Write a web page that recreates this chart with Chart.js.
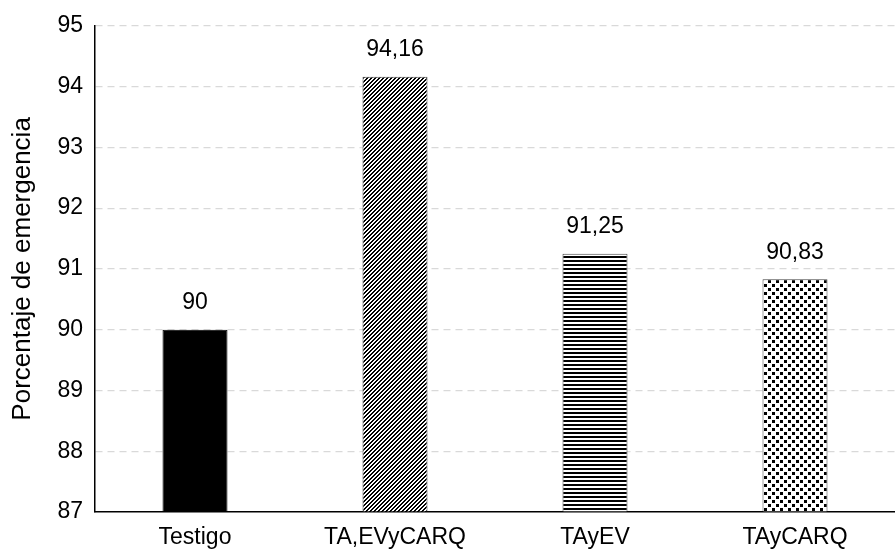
<!DOCTYPE html>
<html>
<head>
<meta charset="utf-8">
<script src="https://cdn.jsdelivr.net/npm/chart.js@4/dist/chart.umd.min.js"></script>
<style>
  html, body { margin: 0; padding: 0; background: #fff; }
  #wrap { width: 895px; height: 552px; }
</style>
</head>
<body>
<div id="wrap"><canvas id="c" width="895" height="552"></canvas></div>
<script>
const categories = ['Testigo', 'TA,EVyCARQ', 'TAyEV', 'TAyCARQ'];
const emergencia = [90, 94.16, 91.25, 90.83];
const valueLabels = ['90', '94,16', '91,25', '90,83'];
const yTicks = [87, 88, 89, 90, 91, 92, 93, 94, 95];

// Pixel fill patterns for each treatment
function makeTile(size, isInk) {
  const t = document.createElement('canvas');
  t.width = size; t.height = size;
  const g = t.getContext('2d');
  g.fillStyle = '#fff';
  g.fillRect(0, 0, size, size);
  g.fillStyle = '#000';
  for (let y = 0; y < size; y++) {
    for (let x = 0; x < size; x++) {
      if (isInk(x, y)) g.fillRect(x, y, 1, 1);
    }
  }
  return document.getElementById('c').getContext('2d').createPattern(t, 'repeat');
}
const solid = '#000';
const diagonal = makeTile(8, (x, y) => ((x + y) % 4) < 2);
const horizontal = makeTile(4, (x, y) => y < 2);
const dotted = makeTile(8, (x, y) => (x < 3 && y < 3) || (x >= 4 && x < 7 && y >= 4 && y < 7));

const valueLabelPlugin = {
  id: 'valueLabels',
  afterDatasetsDraw(chart) {
    const ctx = chart.ctx;
    const meta = chart.getDatasetMeta(0);
    ctx.save();
    ctx.font = '23px "Liberation Sans", Arial, sans-serif';
    ctx.fillStyle = '#000';
    ctx.textAlign = 'center';
    ctx.textBaseline = 'middle';
    meta.data.forEach((bar, i) => {
      ctx.fillText(valueLabels[i], bar.x, bar.y - 27);
    });
    ctx.restore();
  }
};

Chart.defaults.font.family = '"Liberation Sans", Arial, sans-serif';
Chart.defaults.font.size = 23;
Chart.defaults.color = '#000';

new Chart(document.getElementById('c'), {
  type: 'bar',
  data: {
    labels: categories,
    datasets: [{
      data: emergencia,
      backgroundColor: [solid, diagonal, horizontal, dotted],
      borderColor: ['#000', '#404040', '#404040', '#404040'],
      borderWidth: 1,
      barPercentage: 0.65,
      categoryPercentage: 0.5,
      base: 87
    }]
  },
  options: {
    responsive: false,
    animation: false,
    layout: { padding: { top: 22, right: 0, left: 0, bottom: 0 } },
    plugins: { legend: { display: false }, tooltip: { enabled: false } },
    scales: {
      x: {
        grid: { display: false, drawTicks: false },
        border: { display: true, color: '#000', width: 1.5 },
        ticks: { padding: 12, font: { size: 23 } },
        afterFit(s) { s.height = 40; }
      },
      y: {
        min: 87,
        max: 95,
        afterBuildTicks(s) { s.ticks = yTicks.map(v => ({ value: v })); },
        grid: {
          color: (c) => c.tick && c.tick.value === 87 ? 'rgba(0,0,0,0)' : '#d9d9d9',
          lineWidth: 1.2,
          drawTicks: false
        },
        border: { display: true, color: '#000', width: 1.5, dash: [7, 5] },
        ticks: { padding: 12, font: { size: 23 } },
        title: {
          display: true,
          text: 'Porcentaje de emergencia',
          font: { size: 26 },
          padding: { top: 7, bottom: 4 }
        },
        afterFit(s) { s.width = 95; }
      }
    }
  },
  plugins: [valueLabelPlugin]
});
</script>
</body>
</html>
